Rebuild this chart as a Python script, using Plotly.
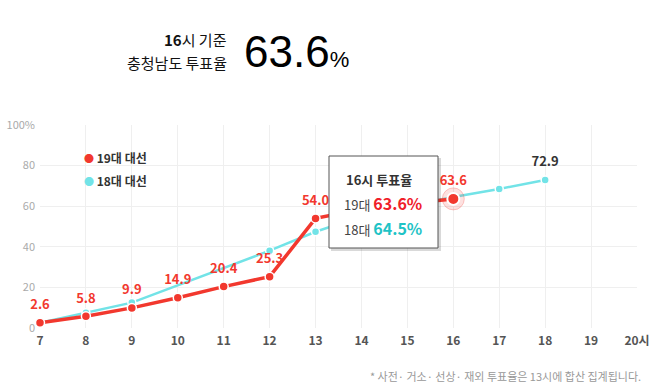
import plotly.graph_objects as go

hours = [7, 8, 9, 10, 11, 12, 13, 14, 15, 16, 17, 18]
turnout_19 = [2.6, 5.8, 9.9, 14.9, 20.4, 25.3, 54.0, 58.5, 61.3, 63.6]
turnout_18 = [2.6, 7.5, 12.5, None, None, 38.1, 47.4, 55.0, 60.0, 64.5, 68.5, 72.9]
tick_vals = list(range(7, 21))
tick_text = [str(h) for h in range(7, 20)] + ["20시"]
y_ticks = [0, 20, 40, 60, 80, 100]
y_tick_text = ["0", "20", "40", "60", "80", "100%"]
hidden_label_hours = [14, 15]  # covered by the tooltip box

RED = "#f2382e"
CYAN = "#72e3e7"
TEAL = "#1fc3c6"
FONT = "Noto Sans CJK KR"

hours_19 = hours[:len(turnout_19)]
labels_19 = ["" if h in hidden_label_hours else f"{v:.1f}" for h, v in zip(hours_19, turnout_19)]
labels_18 = [""] * (len(turnout_18) - 1) + [f"{turnout_18[-1]:.1f}"]

fig = go.Figure()

fig.add_trace(go.Scatter(
    x=hours, y=turnout_18, mode="lines+markers", connectgaps=True,
    line=dict(color=CYAN, width=2.5),
    marker=dict(color=CYAN, size=8, line=dict(color="white", width=1.5)),
    cliponaxis=False, showlegend=False, hoverinfo="skip",
))
fig.add_trace(go.Scatter(
    x=hours_19, y=turnout_19, mode="lines+markers",
    line=dict(color=RED, width=3.5),
    marker=dict(color=RED, size=9, line=dict(color="white", width=1.5)),
    cliponaxis=False, showlegend=False, hoverinfo="skip",
))
# highlighted current point (halo)
fig.add_trace(go.Scatter(
    x=[hours_19[-1]], y=[turnout_19[-1]], mode="markers",
    marker=dict(color="rgba(242,56,46,0.15)", size=22, line=dict(color="rgba(242,56,46,0.25)", width=1)),
    showlegend=False, hoverinfo="skip", cliponaxis=False,
))
fig.add_trace(go.Scatter(
    x=[hours_19[-1]], y=[turnout_19[-1]], mode="markers",
    marker=dict(color=RED, size=12, line=dict(color="white", width=2)),
    showlegend=False, hoverinfo="skip", cliponaxis=False,
))
# value labels (invisible markers give the label offset)
fig.add_trace(go.Scatter(
    x=hours, y=turnout_18, mode="markers+text",
    marker=dict(size=15, opacity=0),
    text=labels_18, textposition="top center",
    textfont=dict(family=FONT, size=13, color="#333333", weight="bold"),
    cliponaxis=False, showlegend=False, hoverinfo="skip",
))
fig.add_trace(go.Scatter(
    x=hours_19, y=turnout_19, mode="markers+text",
    marker=dict(size=15, opacity=0),
    text=labels_19, textposition="top center",
    textfont=dict(family=FONT, size=13, color=RED, weight="bold"),
    cliponaxis=False, showlegend=False, hoverinfo="skip",
))

# plot area in pixels: x 40..637, y 125..328
def px(x):
    return (x - 40) / 597.0

def py(y):
    return (328 - y) / 203.0

shapes = []
# tooltip shadow and box
shapes.append(dict(type="rect", xref="paper", yref="paper",
                   x0=px(331), x1=px(441), y0=py(251), y1=py(158),
                   fillcolor="rgba(0,0,0,0.15)", line=dict(width=0), layer="above"))
shapes.append(dict(type="rect", xref="paper", yref="paper",
                   x0=px(329), x1=px(438), y0=py(248), y1=py(156),
                   fillcolor="white", line=dict(color="#555555", width=1), layer="above"))

annotations = []
# tooltip text
annotations.append(dict(xref="paper", yref="paper", x=px(344), y=py(179), xanchor="left", yanchor="middle",
                        text="<b>16시 투표율</b>", showarrow=False,
                        font=dict(family=FONT, size=13, color="#333333")))
annotations.append(dict(xref="paper", yref="paper", x=px(342), y=py(203), xanchor="left", yanchor="middle",
                        text="19대 <b><span style='color:%s;font-size:16px'>63.6%%</span></b>" % "#f0202a",
                        showarrow=False, font=dict(family=FONT, size=13, color="#444444")))
annotations.append(dict(xref="paper", yref="paper", x=px(342), y=py(228), xanchor="left", yanchor="middle",
                        text="18대 <b><span style='color:%s;font-size:16px'>64.5%%</span></b>" % TEAL,
                        showarrow=False, font=dict(family=FONT, size=13, color="#444444")))

# legend
annotations.append(dict(xref="paper", yref="paper", x=px(82), y=py(157), xanchor="left", yanchor="middle",
                        text="<span style='color:%s;font-size:10px'>●</span> <b>19대 대선</b>" % RED, showarrow=False,
                        font=dict(family=FONT, size=12, color="#333333")))
annotations.append(dict(xref="paper", yref="paper", x=px(82), y=py(180), xanchor="left", yanchor="middle",
                        text="<span style='color:%s;font-size:10px'>●</span> <b>18대 대선</b>" % CYAN, showarrow=False,
                        font=dict(family=FONT, size=12, color="#333333")))

# header
annotations.append(dict(xref="paper", yref="paper", x=px(229), y=py(40), xanchor="right", yanchor="middle",
                        text="<b>16</b>시 기준", showarrow=False,
                        font=dict(family=FONT, size=15, color="#111111")))
annotations.append(dict(xref="paper", yref="paper", x=px(229), y=py(63), xanchor="right", yanchor="middle",
                        text="충청남도 투표율", showarrow=False,
                        font=dict(family=FONT, size=15, color="#111111")))
annotations.append(dict(xref="paper", yref="paper", x=px(242), y=py(51), xanchor="left", yanchor="middle",
                        text="63.6<span style='font-size:22px'>%</span>", showarrow=False,
                        font=dict(family="Liberation Sans, Arial", size=44, color="#000000")))

# footnote
annotations.append(dict(xref="paper", yref="paper", x=px(643), y=py(376), xanchor="right", yanchor="middle",
                        text="* 사전· 거소· 선상· 재외 투표율은 13시에 합산 집계됩니다.", showarrow=False,
                        font=dict(family=FONT, size=11, color="#999999")))

fig.update_layout(
    width=658, height=391,
    margin=dict(l=40, r=21, t=125, b=63, autoexpand=False),
    paper_bgcolor="white", plot_bgcolor="white",
    shapes=shapes, annotations=annotations,
    showlegend=False,
    xaxis=dict(range=[7, 20], tickmode="array", tickvals=tick_vals,
               ticktext=["<b>%s</b>" % t for t in tick_text],
               tickfont=dict(family=FONT, size=12, color="#555555"),
               showgrid=True, gridcolor="#efefef", gridwidth=1, automargin=False,
               zeroline=False, showline=False, ticks="", ticklabelstandoff=4),
    yaxis=dict(range=[0, 100], tickmode="array", tickvals=y_ticks, ticktext=y_tick_text,
               tickfont=dict(family=FONT, size=11, color="#aaaaaa"), automargin=False,
               showgrid=True, gridcolor="#efefef", gridwidth=1,
               zeroline=False, showline=False, ticks="", ticklabelstandoff=4),
)

fig.write_html("out.html", config={"displayModeBar": False},
               post_script="document.body.style.margin='0';document.body.style.overflow='hidden';")
